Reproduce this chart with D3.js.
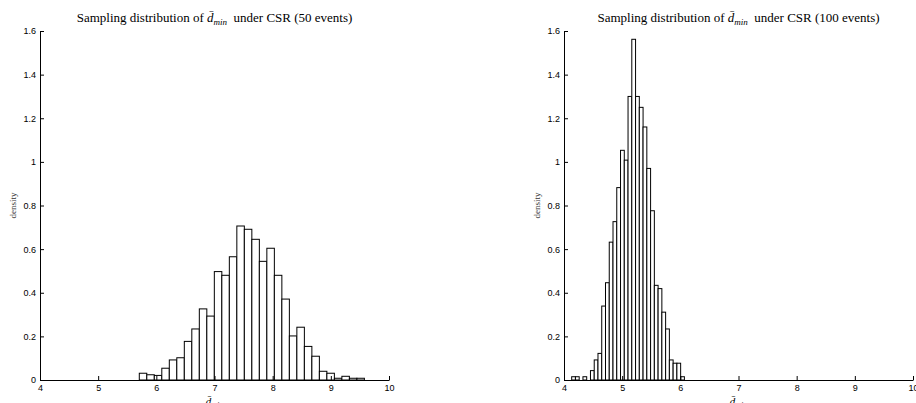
<!DOCTYPE html>
<html>
<head>
<meta charset="utf-8">
<script src="https://cdn.jsdelivr.net/npm/d3@7"></script>
<style>
  html, body { margin: 0; padding: 0; background: #fff; }
  svg { display: block; }
  .tick text { font-family: "Liberation Sans", Arial, sans-serif; font-size: 9px; fill: #000; }
</style>
</head>
<body>
<svg id="chart" width="916" height="403"></svg>
<script>
// ---- data ----
const xTicks = [4, 5, 6, 7, 8, 9, 10];
const yTicks = [0, 0.2, 0.4, 0.6, 0.8, 1, 1.2, 1.4, 1.6];
const yTickLabels = ["0", "0.2", "0.4", "0.6", "0.8", "1", "1.2", "1.4", "1.6"];

const titles = ["(50 events)", "(100 events)"];

// 50 events: 30 bins starting at 5.707, width 0.129
const bins50Start = 5.707;
const bins50Width = 0.129;
const density50 = [0.031, 0.024, 0.021, 0.054, 0.092, 0.102, 0.177, 0.234, 0.326, 0.293,
                   0.497, 0.480, 0.565, 0.706, 0.691, 0.645, 0.544, 0.604, 0.480, 0.371,
                   0.202, 0.242, 0.154, 0.109, 0.040, 0.031, 0.008, 0.017, 0.008, 0.008];

// 100 events: 30 bins starting at 4.132, width 0.0646
const bins100Start = 4.132;
const bins100Width = 0.0646;
const density100 = [0.015, 0.015, 0, 0.015, 0, 0.043, 0.092, 0.122, 0.339, 0.446,
                    0.632, 0.726, 0.882, 1.053, 1.008, 1.300, 1.562, 1.300, 1.250, 1.160,
                    0.970, 0.776, 0.434, 0.419, 0.311, 0.234, 0.092, 0.077, 0.077, 0.015];

// ---- drawing ----
const svg = d3.select("#chart");
const plotTop = 31, plotBottom = 380, plotW = 349;
const panels = [
  { left: 40, start: bins50Start, width: bins50Width, values: density50, title: titles[0] },
  { left: 564, start: bins100Start, width: bins100Width, values: density100, title: titles[1] }
];

panels.forEach(p => {
  const x = d3.scaleLinear().domain([4, 10]).range([p.left, p.left + plotW]);
  const y = d3.scaleLinear().domain([0, 1.6]).range([plotBottom, plotTop]);
  const g = svg.append("g");

  const bins = p.values.map((v, i) => ({ x0: p.start + i * p.width, x1: p.start + (i + 1) * p.width, v }));
  g.selectAll("rect.bar").data(bins.filter(d => d.v > 0)).join("rect")
    .attr("class", "bar")
    .attr("x", d => x(d.x0))
    .attr("y", d => y(d.v))
    .attr("width", d => x(d.x1) - x(d.x0))
    .attr("height", d => y(0) - y(d.v))
    .attr("fill", "#fff")
    .attr("stroke", "#000")
    .attr("stroke-width", 1);

  const xa = g.append("g").attr("transform", `translate(0,${plotBottom})`)
    .call(d3.axisBottom(x).tickValues(xTicks).tickFormat(d3.format("d"))
      .tickSizeInner(-4).tickSizeOuter(0).tickPadding(5));
  const ya = g.append("g").attr("transform", `translate(${p.left},0)`)
    .call(d3.axisLeft(y).tickValues(yTicks).tickFormat((d, i) => yTickLabels[i])
      .tickSizeInner(-4).tickSizeOuter(0).tickPadding(4));
  [xa, ya].forEach(a => {
    a.select(".domain").attr("stroke", "#000").attr("stroke-width", 1);
    a.selectAll(".tick line").attr("stroke", "#000");
  });

  // title
  const cx = p.left + plotW / 2;
  const t = g.append("text")
    .attr("x", cx).attr("y", 22)
    .attr("text-anchor", "middle")
    .attr("font-family", "'Liberation Serif', 'DejaVu Serif', serif")
    .attr("font-size", 13)
    .attr("fill", "#000");
  t.append("tspan").text("Sampling distribution of ");
  t.append("tspan").attr("font-style", "italic").text("d\u0304");
  t.append("tspan").attr("font-style", "italic").attr("font-size", 9).attr("dy", 2.5).text("min");
  t.append("tspan").attr("dy", -2.5).text("\u00a0 under CSR " + p.title);

  // y label
  g.append("text")
    .attr("transform", `translate(${p.left - 24},${(plotTop + plotBottom) / 2}) rotate(-90)`)
    .attr("text-anchor", "middle")
    .attr("font-family", "'Liberation Serif', 'DejaVu Serif', serif")
    .attr("font-size", 9)
    .attr("fill", "#333")
    .text("density");

  // x label
  const xl = g.append("text")
    .attr("x", cx).attr("y", 405)
    .attr("text-anchor", "middle")
    .attr("font-family", "'Liberation Serif', 'DejaVu Serif', serif")
    .attr("font-size", 11)
    .attr("fill", "#000");
  xl.append("tspan").attr("font-style", "italic").text("d\u0304");
  xl.append("tspan").attr("font-style", "italic").attr("font-size", 8).attr("dy", 2.5).text("min");
});
</script>
</body>
</html>
